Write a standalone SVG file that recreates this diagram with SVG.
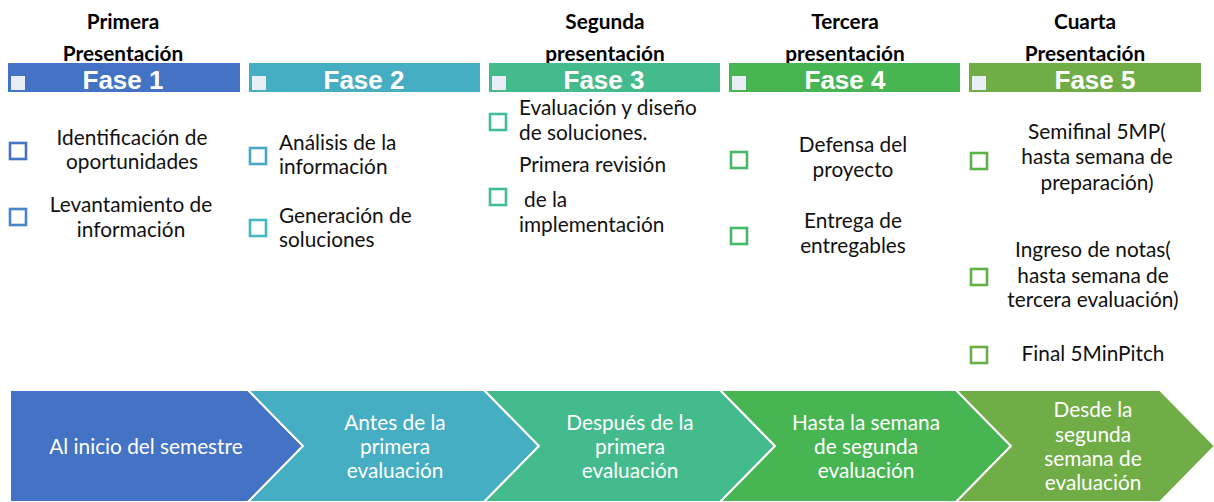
<svg xmlns="http://www.w3.org/2000/svg" width="1214" height="502" viewBox="0 0 1214 502">
<style>
.title{font-family:Lato,"Liberation Sans",sans-serif;font-weight:bold;font-size:20.8px;fill:#000;text-anchor:middle}
.fase{font-family:"Liberation Sans",Arial,sans-serif;font-weight:bold;font-size:26px;fill:#fff;text-anchor:middle}
.mini{fill:#e9eef6;stroke:none}
.t{font-family:Lato,"Liberation Sans",sans-serif;font-size:20.8px;fill:#111}
.c{text-anchor:middle}
.box{fill:#fff;stroke-width:2.6}
.chev{stroke:#fff;stroke-width:2}
.ct{font-family:Lato,"Liberation Sans",sans-serif;font-size:20.8px;fill:#fff;text-anchor:middle}
</style>
<rect width="1214" height="502" fill="#fff"/>
<g id="titles">
<text class="title" x="123" y="29">Primera</text>
<text class="title" x="123" y="61">Presentación</text>
<text class="title" x="605" y="29">Segunda</text>
<text class="title" x="605" y="61">presentación</text>
<text class="title" x="845" y="29">Tercera</text>
<text class="title" x="845" y="61">presentación</text>
<text class="title" x="1085" y="29">Cuarta</text>
<text class="title" x="1085" y="61">Presentación</text>
</g>
<g id="fase1">
<rect x="8" y="63" width="232" height="29" fill="#4472c4"/>
<rect class="mini" x="11" y="76" width="14" height="14"/>
<text class="fase" x="123" y="89">Fase 1</text>
</g>
<g id="fase2">
<rect x="249" y="63" width="231" height="29" fill="#46aec2"/>
<rect class="mini" x="252" y="76" width="14" height="14"/>
<text class="fase" x="364" y="89">Fase 2</text>
</g>
<g id="fase3">
<rect x="489" y="63" width="231" height="29" fill="#44bb8d"/>
<rect class="mini" x="492" y="76" width="14" height="14"/>
<text class="fase" x="604" y="89">Fase 3</text>
</g>
<g id="fase4">
<rect x="729" y="63" width="231" height="29" fill="#48b553"/>
<rect class="mini" x="732" y="76" width="14" height="14"/>
<text class="fase" x="845" y="89">Fase 4</text>
</g>
<g id="fase5">
<rect x="969" y="63" width="232" height="29" fill="#70ad47"/>
<rect class="mini" x="972" y="76" width="14" height="14"/>
<text class="fase" x="1095" y="89">Fase 5</text>
</g>
<g id="col1">
<rect class="box" x="10" y="143" width="16" height="16" stroke="#4472c4"/>
<text class="t c" x="132" y="145">Identificación de</text>
<text class="t c" x="132" y="169">oportunidades</text>
<rect class="box" x="10" y="209" width="16" height="16" stroke="#4a84c6"/>
<text class="t c" x="131" y="212">Levantamiento de</text>
<text class="t c" x="131" y="237">información</text>
</g>
<g id="col2">
<rect class="box" x="250" y="148" width="16" height="16" stroke="#4ba8c4"/>
<text class="t" x="279" y="150">Análisis de la</text>
<text class="t" x="279" y="174">información</text>
<rect class="box" x="250" y="220" width="16" height="16" stroke="#46b8c0"/>
<text class="t" x="279" y="223">Generación de</text>
<text class="t" x="279" y="247">soluciones</text>
</g>
<g id="col3">
<rect class="box" x="490" y="114" width="16" height="16" stroke="#45bb9c"/>
<text class="t" x="519" y="115">Evaluación y diseño</text>
<text class="t" x="519" y="140">de soluciones.</text>
<text class="t" x="519" y="172">Primera revisión</text>
<rect class="box" x="490" y="189" width="16" height="16" stroke="#45bb98"/>
<text class="t" x="524" y="207">de la</text>
<text class="t" x="519" y="232">implementación</text>
</g>
<g id="col4">
<rect class="box" x="731" y="152" width="16" height="16" stroke="#47b96c"/>
<text class="t c" x="853" y="152">Defensa del</text>
<text class="t c" x="853" y="177">proyecto</text>
<rect class="box" x="731" y="228" width="16" height="16" stroke="#47b868"/>
<text class="t c" x="853" y="228">Entrega de</text>
<text class="t c" x="853" y="253">entregables</text>
</g>
<g id="col5">
<rect class="box" x="971" y="153" width="16" height="16" stroke="#5cb24a"/>
<text class="t c" x="1097" y="139">Semifinal 5MP(</text>
<text class="t c" x="1097" y="164">hasta semana de</text>
<text class="t c" x="1097" y="190">preparación)</text>
<rect class="box" x="971" y="269" width="16" height="16" stroke="#62b04a"/>
<text class="t c" x="1093" y="257">Ingreso de notas(</text>
<text class="t c" x="1093" y="283">hasta semana de</text>
<text class="t c" x="1093" y="307">tercera evaluación)</text>
<rect class="box" x="971" y="347" width="16" height="16" stroke="#6aaf48"/>
<text class="t c" x="1093" y="361">Final 5MinPitch</text>
</g>
<g id="chevron1">
<polygon class="chev" points="10,390 248,390 303,446 248,502 10,502" fill="#4472c4"/>
<text class="ct" x="146" y="454">Al inicio del semestre</text>
</g>
<g id="chevron2">
<polygon class="chev" points="248,390 484,390 539,446 484,502 248,502 303,446" fill="#46aec2"/>
<text class="ct" x="395" y="430">Antes de la</text>
<text class="ct" x="395" y="454">primera</text>
<text class="ct" x="395" y="478">evaluación</text>
</g>
<g id="chevron3">
<polygon class="chev" points="484,390 720,390 775,446 720,502 484,502 539,446" fill="#44bb8d"/>
<text class="ct" x="630" y="430">Después de la</text>
<text class="ct" x="630" y="454">primera</text>
<text class="ct" x="630" y="478">evaluación</text>
</g>
<g id="chevron4">
<polygon class="chev" points="720,390 956,390 1011,446 956,502 720,502 775,446" fill="#48b553"/>
<text class="ct" x="866" y="430">Hasta la semana</text>
<text class="ct" x="866" y="454">de segunda</text>
<text class="ct" x="866" y="478">evaluación</text>
</g>
<g id="chevron5">
<polygon class="chev" points="956,390 1160,390 1215,446 1160,502 956,502 1011,446" fill="#70ad47"/>
<text class="ct" x="1093" y="417">Desde la</text>
<text class="ct" x="1093" y="442">segunda</text>
<text class="ct" x="1093" y="466">semana de</text>
<text class="ct" x="1093" y="490">evaluación</text>
</g>
<g id="connectors"></g>
</svg>
